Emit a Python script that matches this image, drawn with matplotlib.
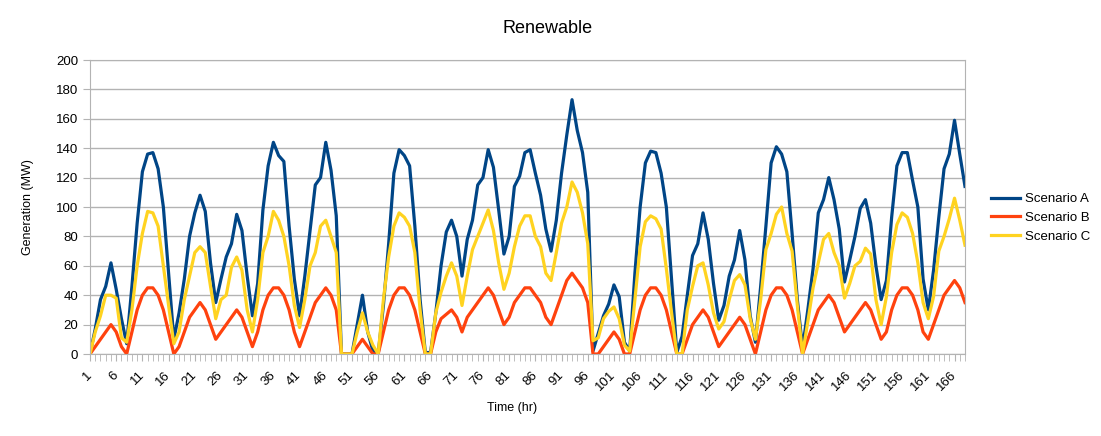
import numpy as np
import matplotlib
matplotlib.use("Agg")
import matplotlib.pyplot as plt

plt.rcParams['font.family'] = ['Liberation Sans', 'DejaVu Sans']

# hourly generation (MW), hours 1..168
scenario_a = [
    0, 17, 37, 46, 62, 44, 24, 7, 46, 89, 124, 136, 137, 126, 100, 55, 10, 28, 51, 80,
    96, 108, 97, 62, 35, 51, 66, 75, 95, 84, 53, 26, 48, 98, 128, 144, 135, 131, 87, 51,
    26, 53, 84, 115, 120, 144, 125, 94, 0, 0, 0, 20, 40, 15, 2, 0, 33, 75, 123, 139,
    135, 128, 87, 37, 1, 1, 28, 60, 83, 91, 80, 53, 78, 91, 115, 120, 139, 127, 98, 68,
    80, 114, 121, 137, 139, 123, 108, 85, 70, 91, 123, 149, 173, 152, 137, 110, 2, 14, 26, 34,
    47, 39, 8, 2, 55, 100, 130, 138, 137, 123, 100, 50, 1, 12, 40, 67, 75, 96, 78, 48,
    23, 33, 53, 64, 84, 64, 26, 8, 46, 87, 130, 141, 136, 124, 82, 37, 4, 30, 58, 96,
    105, 120, 105, 85, 49, 64, 80, 99, 105, 89, 60, 37, 50, 93, 128, 137, 137, 118, 100, 51,
    30, 57, 93, 126, 136, 159, 136, 114,
]
scenario_b = [
    0, 5, 10, 15, 20, 15, 5, 0, 15, 30, 40, 45, 45, 40, 30, 15, 0, 5, 15, 25,
    30, 35, 30, 20, 10, 15, 20, 25, 30, 25, 15, 5, 15, 30, 40, 45, 45, 40, 30, 15,
    5, 15, 25, 35, 40, 45, 40, 30, 0, 0, 0, 5, 10, 5, 0, 0, 15, 30, 40, 45,
    45, 40, 30, 15, 0, 0, 15, 24, 27, 30, 25, 15, 25, 30, 35, 40, 45, 40, 30, 20,
    25, 35, 40, 45, 45, 40, 35, 25, 20, 30, 40, 50, 55, 50, 45, 35, 0, 0, 5, 10,
    15, 10, 0, 0, 15, 30, 40, 45, 45, 40, 30, 15, 0, 0, 10, 20, 25, 30, 25, 15,
    5, 10, 15, 20, 25, 20, 10, 0, 15, 30, 40, 45, 45, 40, 30, 15, 0, 10, 20, 30,
    35, 40, 35, 25, 15, 20, 25, 30, 35, 30, 20, 10, 15, 30, 40, 45, 45, 40, 30, 15,
    10, 20, 30, 40, 45, 50, 45, 35,
]
scenario_c = [
    0, 15, 26, 40, 40, 38, 11, 8, 30, 60, 82, 97, 96, 87, 60, 33, 7, 15, 37, 53,
    69, 73, 69, 46, 24, 37, 40, 59, 66, 57, 30, 15, 37, 69, 80, 97, 91, 80, 60, 33,
    18, 37, 60, 69, 87, 91, 80, 69, 0, 0, 0, 15, 28, 15, 6, 0, 37, 66, 87, 96,
    93, 87, 69, 30, 0, 0, 28, 42, 53, 62, 53, 33, 53, 71, 80, 89, 98, 84, 62, 44,
    55, 73, 87, 94, 94, 80, 73, 55, 50, 69, 89, 100, 117, 110, 96, 75, 9, 11, 24, 29,
    32, 24, 6, 2, 37, 73, 90, 94, 92, 85, 58, 28, 0, 0, 30, 46, 60, 62, 47, 28,
    17, 22, 37, 50, 54, 47, 24, 10, 37, 71, 82, 95, 100, 82, 70, 33, 0, 22, 45, 62,
    78, 82, 69, 60, 38, 48, 60, 63, 72, 68, 37, 20, 39, 69, 88, 96, 93, 82, 62, 35,
    24, 39, 70, 80, 92, 106, 91, 74,
]
hours = np.arange(1, len(scenario_a) + 1)

fig = plt.figure(figsize=(11.01, 4.36), dpi=100)
ax = fig.add_axes([90 / 1101, 1 - 354 / 436, 875 / 1101, 294 / 436])

ax.plot(hours, scenario_a, color="#004586", lw=2.3, label="Scenario A")
ax.plot(hours, scenario_b, color="#ff420e", lw=2.3, label="Scenario B")
ax.plot(hours, scenario_c, color="#ffd320", lw=2.3, label="Scenario C")

ax.set_xlim(1, 168)
ax.set_ylim(0, 200)
ax.set_yticks(np.arange(0, 201, 20))
ax.set_xticks(np.arange(1, 169, 5))
ax.set_xticks(hours, minor=True)
ax.set_xticklabels([str(h) for h in range(1, 169, 5)], rotation=45,
                   ha="right", va="center", rotation_mode="anchor")
ax.grid(axis="y", color="#b3b3b3", lw=1)
ax.set_axisbelow(True)
for s in ax.spines.values():
    s.set_color("#b3b3b3")
ax.tick_params(axis="both", which="both", color="#b3b3b3", labelsize=9.5)
ax.tick_params(axis="x", which="major", length=5, pad=9)
ax.tick_params(axis="x", which="minor", length=5)
ax.tick_params(axis="y", length=5)

fig.text(548 / 1101, 1 - 28 / 436, "Renewable", ha="center", va="center", fontsize=13)
fig.text(28 / 1101, 1 - 207 / 436, "Generation (MW)", rotation=90,
         ha="center", va="center", fontsize=9)
fig.text(512 / 1101, 1 - 408 / 436, "Time (hr)", ha="center", va="center", fontsize=9)

fig.legend(loc="center left", bbox_to_anchor=(0.9, 0.5), frameon=False,
           fontsize=9.5, handlelength=2.2, handletextpad=0.35, labelspacing=0.5,
           borderaxespad=0, borderpad=0)

fig.savefig("out.png", dpi=100)
